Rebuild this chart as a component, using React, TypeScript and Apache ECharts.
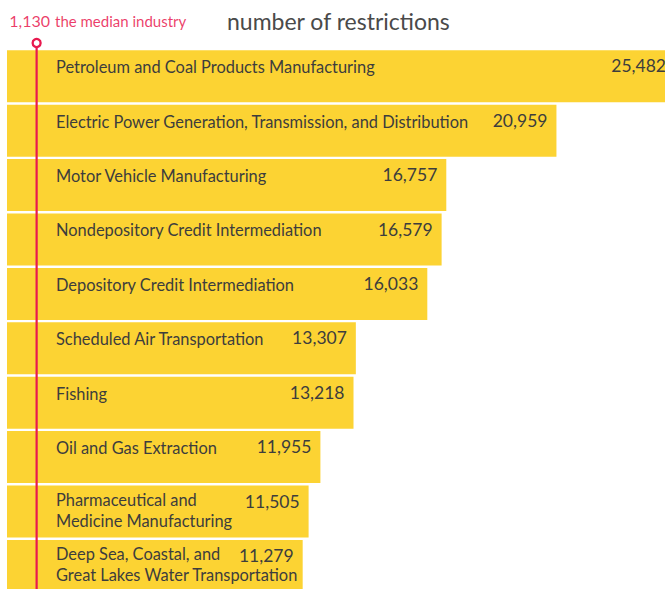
import React, { useEffect, useRef } from "react";
import * as echarts from "echarts";

const categories: string[] = [
  "Petroleum and Coal Products Manufacturing",
  "Electric Power Generation, Transmission, and Distribution",
  "Motor Vehicle Manufacturing",
  "Nondepository Credit Intermediation",
  "Depository Credit Intermediation",
  "Scheduled Air Transportation",
  "Fishing",
  "Oil and Gas Extraction",
  "Pharmaceutical and\nMedicine Manufacturing",
  "Deep Sea, Coastal, and\nGreat Lakes Water Transportation",
];
const values: number[] = [25482, 20959, 16757, 16579, 16033, 13307, 13218, 11955, 11505, 11279];
const medianValue = 1130;
const medianLabel = "1,130";
const medianText = "the median industry";
const titleText = "number of restrictions";

const BAR = "#FCD333";
const TEXT = "#3d3d3d";
const RED = "#E8194F";
const FONT = "Lato";

const firstLine = (s: string) => s.split("\n")[0];
const secondLine = (s: string) => (s.includes("\n") ? s.split("\n")[1] : "");

export default function App() {
  const ref = useRef<HTMLDivElement>(null);
  useEffect(() => {
    if (!ref.current) return;
    const chart = echarts.init(ref.current, undefined, { renderer: "svg" });
    const line1Data = values.map((v, i) => ({
      value: v,
      label: { position: [49, categories[i].includes("\n") ? 13.8 : 16.3] as [number, number] },
    }));
    const labelBase = {
      show: true,
      align: "left",
      verticalAlign: "middle",
      color: TEXT,
      fontFamily: FONT,
      fontSize: 16.4,
      lineHeight: 18,
    };
    chart.setOption({
      animation: false,
      grid: { left: 7, right: 0, top: 49.1, height: 544 },
      xAxis: { type: "value", min: 0, max: 25100, show: false },
      yAxis: { type: "category", data: categories, inverse: true, show: false },
      series: [
        {
          type: "bar",
          data: line1Data,
          barWidth: 52,
          clip: false,
          itemStyle: { color: BAR },
          label: { ...labelBase, formatter: (p: any) => firstLine(p.name) },
          z: 2,
        },
        {
          type: "bar",
          data: values,
          barWidth: 52,
          barGap: "-100%",
          clip: false,
          itemStyle: { color: "rgba(0,0,0,0)" },
          label: {
            ...labelBase,
            position: [49, 34.5],
            formatter: (p: any) => secondLine(p.name),
          },
          z: 3,
        },
        {
          type: "bar",
          data: values,
          barWidth: 52,
          barGap: "-100%",
          clip: false,
          itemStyle: { color: "rgba(0,0,0,0)" },
          label: {
            show: true,
            position: "insideTopRight",
            distance: 9,
            offset: [0, -1.5],
            formatter: (p: any) => Number(p.value).toLocaleString("en-US"),
            color: TEXT,
            fontFamily: FONT,
            fontSize: 17.5,
            lineHeight: 16,
          },
          z: 3,
        },
      ],
    });
    const mx = chart.convertToPixel({ xAxisIndex: 0 }, medianValue) as number;
    chart.setOption({
      graphic: [
        {
          type: "line",
          shape: { x1: mx, y1: 47, x2: mx, y2: 600 },
          style: { stroke: RED, lineWidth: 2.2 },
          z: 10,
        },
        {
          type: "circle",
          shape: { cx: mx, cy: 43, r: 4 },
          style: { fill: "#fff", stroke: RED, lineWidth: 2.3 },
          z: 11,
        },
        {
          type: "text",
          x: 50,
          y: 20,
          style: {
            text: medianLabel,
            fill: RED,
            font: `16px ${FONT}`,
            textAlign: "right",
            textVerticalAlign: "middle",
            opacity: 0.85,
          },
          z: 11,
        },
        {
          type: "text",
          x: 55,
          y: 21,
          style: {
            text: medianText,
            fill: RED,
            font: `15px ${FONT}`,
            textVerticalAlign: "middle",
            opacity: 0.85,
          },
          z: 11,
        },
        {
          type: "text",
          x: 227,
          y: 21,
          style: {
            text: titleText,
            fill: "#4a4a4a",
            font: `23px ${FONT}`,
            textVerticalAlign: "middle",
          },
          z: 11,
        },
      ],
    });
    return () => chart.dispose();
  }, []);
  return (
    <div
      style={{
        position: "absolute",
        left: 0,
        top: 0,
        width: 665,
        height: 589,
        overflow: "hidden",
      }}
    >
      <div ref={ref} style={{ width: 665, height: 600 }} />
    </div>
  );
}
